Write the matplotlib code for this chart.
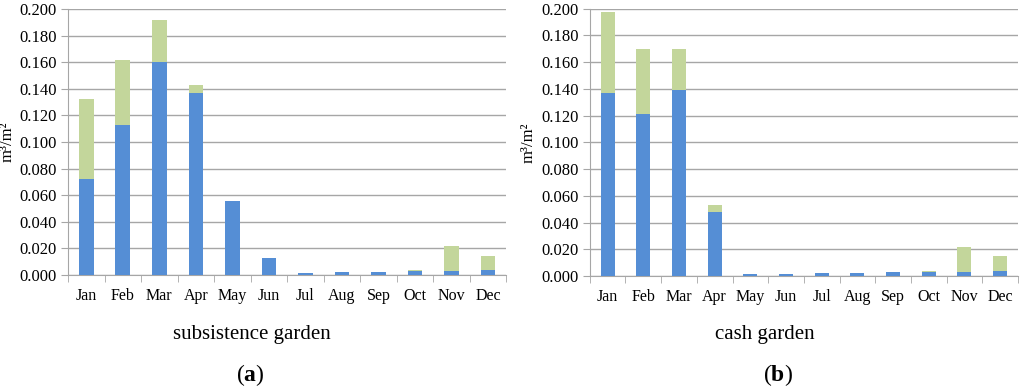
import matplotlib
matplotlib.use("Agg")
import matplotlib.pyplot as plt
import numpy as np

months = ["Jan", "Feb", "Mar", "Apr", "May", "Jun", "Jul", "Aug", "Sep", "Oct", "Nov", "Dec"]

# subsistence garden: blue part and total stacked height
sub_blue = [0.072, 0.1125, 0.160, 0.137, 0.056, 0.013, 0.0015, 0.002, 0.002, 0.003, 0.003, 0.0035]
sub_total = [0.132, 0.162, 0.1915, 0.143, 0.056, 0.013, 0.0015, 0.002, 0.002, 0.0038, 0.022, 0.0145]

# cash garden
cash_blue = [0.137, 0.121, 0.139, 0.048, 0.002, 0.002, 0.0025, 0.0025, 0.003, 0.003, 0.003, 0.004]
cash_total = [0.1975, 0.170, 0.170, 0.053, 0.002, 0.002, 0.0025, 0.0025, 0.003, 0.004, 0.022, 0.015]

yticks = [0.000, 0.020, 0.040, 0.060, 0.080, 0.100, 0.120, 0.140, 0.160, 0.180, 0.200]

BLUE = "#558ED5"
GREEN = "#C3D69B"
GRID = "#A6A6A6"

plt.rcParams["font.family"] = ["Liberation Serif", "DejaVu Serif"]
plt.rcParams["mathtext.fontset"] = "custom"
plt.rcParams["mathtext.rm"] = "Liberation Serif"
plt.rcParams["mathtext.bf"] = "Liberation Serif:bold"

fig = plt.figure(figsize=(10.24, 3.89), dpi=100)

def panel(rect, blue, total, subtitle, letter, xc, xl):
    ax = fig.add_axes(rect)
    x = np.arange(len(months))
    green = [t - b for t, b in zip(total, blue)]
    ax.bar(x, blue, width=0.4, color=BLUE, zorder=3)
    ax.bar(x, green, bottom=blue, width=0.4, color=GREEN, zorder=3)
    ax.set_xlim(-0.5, len(months) - 0.5)
    ax.set_ylim(0, 0.2)
    ax.set_yticks(yticks)
    ax.set_yticklabels([f"{v:.3f}" for v in yticks], fontsize=12)
    ax.yaxis.grid(True, color=GRID, linewidth=1.0, zorder=0)
    ax.set_axisbelow(True)
    ax.set_xticks(x)
    ax.set_xticklabels(months, fontsize=11.5)
    ax.set_xticks(np.arange(-0.5, len(months) + 0.5, 1), minor=True)
    ax.tick_params(axis="x", which="major", length=0, pad=9)
    ax.tick_params(axis="x", which="minor", length=5, color=GRID, direction="out")
    ax.tick_params(axis="y", length=5, color=GRID, direction="out", pad=3)
    for s in ["top", "right"]:
        ax.spines[s].set_visible(False)
    ax.spines["left"].set_color(GRID)
    ax.spines["bottom"].set_color(GRID)
    ax.set_ylabel("m³/m²", fontsize=12, labelpad=3)
    fig.text(xc, 0.139, subtitle, ha="center", va="center", fontsize=15)
    fig.text(xl, 0.036, r"($\mathbf{" + letter + r"}$)", ha="center", va="center", fontsize=17)
    return ax

panel([0.0664, 0.293, 0.428, 0.684], sub_blue, sub_total, "subsistence garden", "a", 0.246, 0.244)
panel([0.576, 0.290, 0.418, 0.688], cash_blue, cash_total, "cash garden", "b", 0.747, 0.760)

fig.savefig("out.png", dpi=100)
